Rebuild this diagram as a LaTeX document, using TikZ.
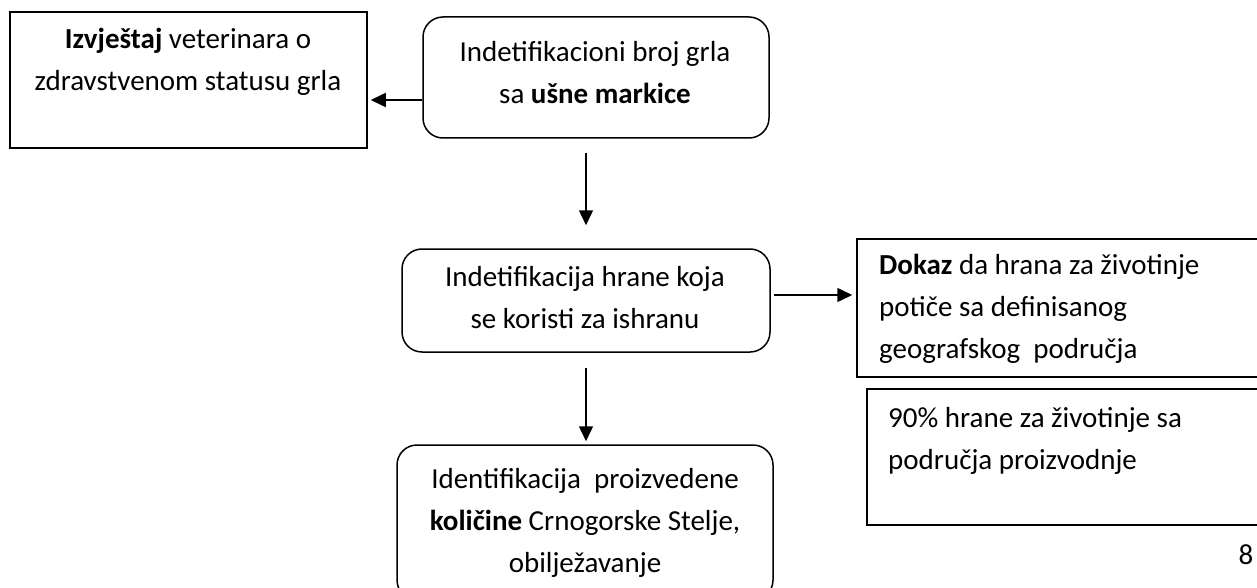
\documentclass[tikz,border=0pt]{standalone}
\usepackage{fontspec}
\setmainfont{Carlito}
\usepackage{tikz}
\usetikzlibrary{arrows.meta, calc, positioning}

\begin{document}
\begin{tikzpicture}[x=1pt, y=-1pt,
    box/.style={draw, line width=1.5pt, inner sep=0pt},
    rbox/.style={box, rounded corners=20pt},
    txt/.style={inner sep=0pt, font=\fontsize{29pt}{42pt}\selectfont},
    arr/.style={-{Triangle[length=15pt, width=14pt]}, line width=1.5pt}]
    \useasboundingbox (0,0) rectangle (1257,588);

    % Boxes
    \node[box, minimum width=357pt, minimum height=136pt] (izvjestaj) at (188.5,80) {};
    \node[rbox, minimum width=346pt, minimum height=121pt] (broj) at (596,77.5) {};
    \node[rbox, minimum width=368pt, minimum height=103pt] (hrana) at (586,300.5) {};
    \node[box, minimum width=420pt, minimum height=138pt] (dokaz) at (1067,308) {};
    \node[box, minimum width=408pt, minimum height=136pt] (procenat) at (1071,457) {};
    \node[rbox, minimum width=376pt, minimum height=155pt] (kolicina) at (585,522.5) {};

    % Texts
    \node[txt, align=center] (izvjestajT) at (188,62) {\textbf{Izvještaj} veterinara o\\zdravstvenom statusu grla};
    \node[txt, align=center] (brojT) at (595,73) {Indetifikacioni broj grla\\sa \textbf{ušne markice}};
    \node[txt, align=center] (hranaT) at (585,298) {Indetifikacija hrane koja\\se koristi za ishranu};
    \node[txt, align=left, anchor=west] (dokazT) at (879,309) {\textbf{Dokaz} da hrana za životinje\\potiče sa definisanog\\geografskog\ \ područja};
    \node[txt, align=left, anchor=west] (procenatT) at (888,441) {90\% hrane za životinje sa\\područja proizvodnje};
    \node[txt, align=center] (kolicinaT) at (585,523) {Identifikacija\ \ proizvedene\\\textbf{količine} Crnogorske Stelje,\\obilježavanje};
    \node[txt] (strana) at (1246,555) {8};

    % Arrows
    \draw[arr, shorten >=3pt] (broj.west |- 0,100) -- (izvjestaj.east |- 0,100);
    \draw[arr, shorten <=14pt, shorten >=23pt] (hrana.north |- broj.south) -- (hrana.north);
    \draw[arr, shorten <=3pt, shorten >=4pt] (hrana.east |- 0,295) -- (dokaz.west |- 0,295);
    \draw[arr, shorten <=15pt, shorten >=3pt] (hrana.south) -- (hrana.south |- kolicina.north);
\end{tikzpicture}
\end{document}
